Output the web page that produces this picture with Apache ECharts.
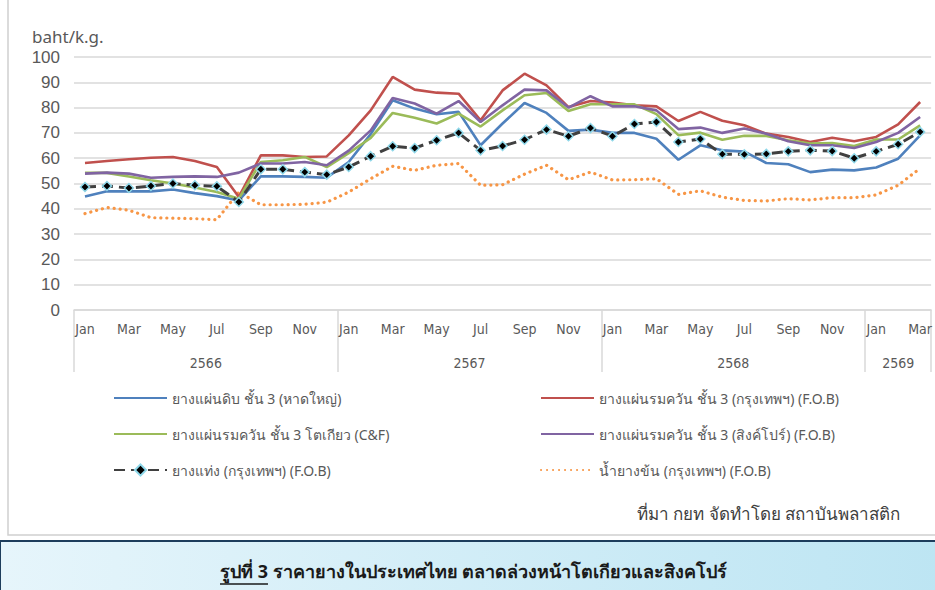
<!DOCTYPE html>
<html><head><meta charset="utf-8">
<script src="https://cdn.jsdelivr.net/npm/echarts@6/dist/echarts.min.js"></script>
<style>html,body{margin:0;padding:0;background:#fff;}#c{width:935px;height:590px;}</style>
</head><body><div id="c"></div>
<script>
// ---- data ----
const monthNames = ['Jan','Feb','Mar','Apr','May','Jun','Jul','Aug','Sep','Oct','Nov','Dec'];
const years = ['2566','2567','2568','2569'];
const monthsPerYear = [12, 12, 12, 3];
const yTickLabels = [0,10,20,30,40,50,60,70,80,90,100];

const seriesNames = [
  'ยางแผ่นดิบ ชั้น 3 (หาดใหญ่)',
  'ยางแผ่นรมควัน ชั้น 3 (กรุงเทพฯ) (F.O.B)',
  'ยางแผ่นรมควัน ชั้น 3 โตเกียว (C&F)',
  'ยางแผ่นรมควัน ชั้น 3 (สิงค์โปร์) (F.O.B)',
  'ยางแท่ง (กรุงเทพฯ) (F.O.B)',
  'น้ำยางข้น (กรุงเทพฯ) (F.O.B)'
];
const rssHatyai = [44.9,46.9,46.9,46.9,47.6,46.2,45.0,43.3,52.8,52.8,52.6,52.3,
  58.5,69.5,82.9,79.6,77.4,78.3,65.1,73.7,81.8,77.9,70.8,71.3,
  70.0,70.0,67.7,59.4,65.1,63.1,62.6,58.1,57.6,54.5,55.5,55.2,
  56.3,59.8,69.0];
const rss3Bangkok = [58.1,58.9,59.6,60.2,60.5,58.9,56.5,44.7,61.1,61.1,60.5,60.7,
  69.0,78.9,92.1,87.1,85.9,85.5,75.0,86.8,93.4,88.8,80.2,82.6,
  82.0,80.9,80.5,74.7,78.3,74.8,73.0,69.7,68.4,66.4,68.1,66.7,
  68.4,73.4,82.2];
const rss3Tokyo = [54.2,54.2,52.8,51.3,50.0,48.4,46.6,44.0,58.5,59.2,60.5,56.5,
  62.0,68.0,77.9,76.0,73.7,77.6,72.5,78.9,84.9,85.8,78.7,81.3,
  81.3,81.3,77.4,69.1,70.1,67.3,68.9,68.8,67.1,65.8,66.0,64.8,
  67.4,67.4,73.0];
const rss3Singapore = [53.9,54.3,53.9,52.3,52.6,52.8,52.6,54.3,57.9,57.9,58.5,57.2,
  63.0,71.0,83.8,81.6,77.6,82.6,74.3,80.9,87.1,86.8,80.0,84.5,
  80.5,80.5,78.9,71.5,72.1,70.0,71.7,69.7,66.7,65.1,65.1,64.0,
  66.4,70.0,76.3];
const strBangkok = [48.6,49.0,48.2,49.0,50.0,49.3,48.9,42.7,55.6,55.6,54.5,53.5,
  56.5,60.8,64.7,64.0,67.1,70.0,63.1,64.8,67.3,71.3,68.7,71.9,
  68.7,73.5,74.3,66.4,67.6,61.6,61.5,61.7,62.7,63.1,62.8,60.0,
  62.7,65.5,70.4];
const latexBangkok = [38.1,40.5,39.4,36.5,36.3,36.1,35.7,46.6,41.6,41.6,41.8,42.6,
  46.6,51.9,56.8,55.2,57.2,57.9,49.3,49.5,53.7,57.2,51.5,54.5,
  51.4,51.5,51.9,45.7,47.1,44.6,43.3,43.1,44.0,43.5,44.4,44.4,
  45.5,49.3,56.0];

const yAxisTitle = 'baht/k.g.';
const sourceText = 'ที่มา กยท จัดทำโดย สถาบันพลาสติก';
const captionPrefix = 'รูปที่ 3';
const captionText = ' ราคายางในประเทศไทย ตลาดล่วงหน้าโตเกียวและสิงคโปร์';

// ---- derived ----
const categories = [];
const yearStartIdx = [];
const yearCenters = {};
let k = 0;
years.forEach((y, yi) => {
  yearStartIdx.push(k);
  yearCenters[String(k + monthsPerYear[yi] / 2)] = y;
  for (let m = 0; m < monthsPerYear[yi]; m++) categories.push(monthNames[m]);
  k += monthsPerYear[yi];
});
const totalMonths = k;

const narrow = '"Liberation Sans Narrow","DejaVu Sans Condensed","Liberation Sans",sans-serif';
const thai = '"Noto Sans","Liberation Sans","DejaVu Sans",sans-serif';
const colors = ['#4F81BD','#C0504D','#9BBB59','#8064A2','#404040','#F79646'];
const dataSets = [rssHatyai, rss3Bangkok, rss3Tokyo, rss3Singapore, strBangkok, latexBangkok];

const series = dataSets.map((d, i) => {
  const s = {
    name: seriesNames[i], type: 'line', data: d, xAxisIndex: 0,
    symbol: 'none', smooth: false,
    lineStyle: { color: colors[i], width: 2.6 },
    itemStyle: { color: colors[i] },
    emphasis: { disabled: true }, z: 2 + i
  };
  if (i === 4) {
    s.symbol = 'diamond'; s.symbolSize = 9; s.showSymbol = true;
    s.itemStyle = { color: '#000', borderColor: '#8fd8ea', borderWidth: 1.5 };
    s.lineStyle = { color: '#404040', width: 3, type: [11, 6] };
    s.z = 10;
  }
  if (i === 5) {
    s.lineStyle = { color: '#F79646', width: 3.2, type: [0.1, 5.9], cap: 'round' };
    s.z = 1;
  }
  return s;
});

function legendItem(i) {
  if (i === 4) return { name: seriesNames[i] };
  return { name: seriesNames[i], itemStyle: { color: 'rgba(0,0,0,0)', borderWidth: 0, opacity: 0 } };
}

// measure caption prefix width for the underline
const capFont = 'bold 18px ' + thai;
const mctx = document.createElement('canvas').getContext('2d');
mctx.font = capFont;
const capLeft = 220;
const prefixW = mctx.measureText(captionPrefix).width;

const chart = echarts.init(document.getElementById('c'), null, { renderer: 'svg' });
chart.setOption({
  animation: false,
  backgroundColor: '#fff',
  grid: { left: 74, right: 3, top: 57, bottom: 280 },
  title: [
    { text: yAxisTitle, left: 32, top: 28, padding: 0, textStyle: { color: '#595959', fontSize: 17, fontWeight: 'normal', fontFamily: thai } },
    { text: sourceText, right: 35, top: 505, padding: 0, textStyle: { color: '#404040', fontSize: 17, fontWeight: 'normal', fontFamily: thai } },
    { text: '{u|' + captionPrefix + '}{t|' + captionText + '}', left: capLeft, top: 562, padding: 0,
      textStyle: { rich: {
        u: { fontSize: 18, fontWeight: 'bold', color: '#1a1a1a', fontFamily: thai },
        t: { fontSize: 18, fontWeight: 'bold', color: '#1a1a1a', fontFamily: thai } } } }
  ],
  legend: [
    { data: [0, 2, 4].map(legendItem), left: 113, top: 391, orient: 'vertical', padding: 0,
      itemGap: 22, itemWidth: 53, itemHeight: 14,
      textStyle: { color: '#595959', fontSize: 14, fontFamily: thai }, selectedMode: false },
    { data: [1, 3, 5].map(legendItem), left: 540, top: 391, orient: 'vertical', padding: 0,
      itemGap: 22, itemWidth: 53, itemHeight: 14,
      textStyle: { color: '#595959', fontSize: 14, fontFamily: thai }, selectedMode: false }
  ],
  xAxis: [
    { type: 'category', data: categories, boundaryGap: true, position: 'bottom',
      axisLine: { show: true, lineStyle: { color: '#d9d9d9', width: 1.5 } },
      axisTick: { show: true, length: 62, interval: (idx) => yearStartIdx.indexOf(idx) >= 0,
        lineStyle: { color: '#d9d9d9', width: 1.5 } },
      axisLabel: { interval: 1, color: '#595959', fontSize: 14, fontFamily: narrow, margin: 12 },
      splitLine: { show: false } },
    { type: 'value', min: 0, max: totalMonths, interval: 0.5, position: 'bottom', offset: 40,
      axisLine: { show: false }, axisTick: { show: false }, splitLine: { show: false },
      axisLabel: { show: true, color: '#595959', fontSize: 14, fontFamily: narrow, margin: 6,
        formatter: (v) => yearCenters[String(v)] || '' } }
  ],
  yAxis: {
    type: 'value', min: yTickLabels[0], max: yTickLabels[yTickLabels.length - 1], interval: 10,
    axisLine: { show: false }, axisTick: { show: false },
    axisLabel: { color: '#595959', fontSize: 17, margin: 14, fontFamily: '"Liberation Sans",sans-serif' },
    splitLine: { lineStyle: { color: '#d9d9d9', width: 1.5 } }
  },
  graphic: [
    { type: 'rect', shape: { x: 8, y: -2, width: 940, height: 537 }, style: { fill: 'none', stroke: '#d0d0d0', lineWidth: 1.5 }, silent: true, z: 0 },
    { type: 'rect', shape: { x: 0, y: 541, width: 940, height: 52 },
      style: { fill: new echarts.graphic.LinearGradient(0, 0, 1, 0, [{ offset: 0, color: '#e6f5fb' }, { offset: 1, color: '#bde5f3' }]),
        stroke: '#1d3d5c', lineWidth: 2 }, silent: true, z: 0 },
    { type: 'line', shape: { x1: capLeft, y1: 584, x2: capLeft + prefixW, y2: 584 }, style: { stroke: '#1a1a1a', lineWidth: 1.3 }, silent: true, z: 10 }
  ],
  series: series
});
</script></body></html>
